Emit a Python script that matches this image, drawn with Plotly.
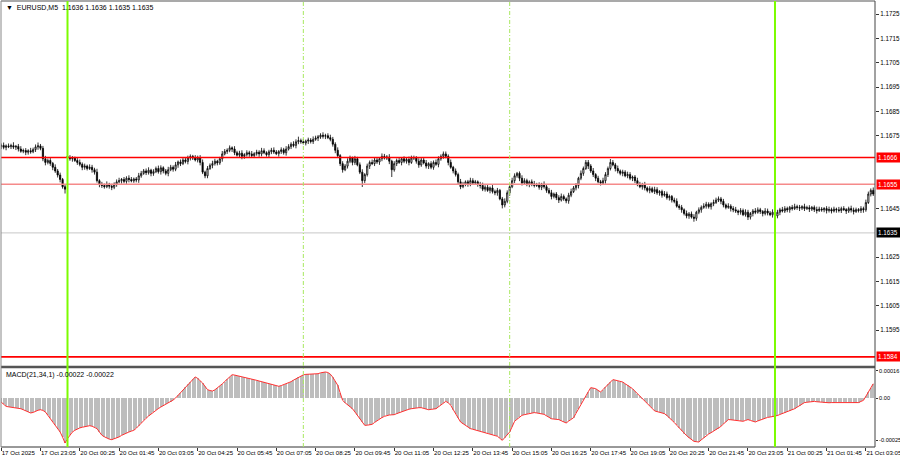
import plotly.graph_objects as go

# ---------------- data (prices in pips above 1.1600, MACD in 1e-5) ----------------
BASE = 1.16
closes = [
71.0,70.2,70.8,70.5,70.9,70.3,70.6,69.5,68.6,68.9,68.2,68.8,68.4,69.3,70.4,70.8,69.8,65.5,64.0,64.8,
63.6,62.0,60.5,58.8,57.0,54.0,53.0,66.0,65.5,65.8,64.8,64.0,63.2,62.0,62.5,61.5,62.0,61.0,60.0,56.5,
55.0,54.5,54.0,55.0,54.2,53.8,55.0,56.0,56.5,57.0,56.2,57.5,57.0,56.4,57.2,56.8,58.5,59.5,60.5,59.8,
60.8,59.5,60.2,61.5,60.2,61.8,60.5,59.5,61.0,62.0,61.2,63.0,64.2,63.5,65.0,64.4,65.8,66.5,65.8,65.0,
66.0,64.0,60.0,58.5,61.5,62.8,63.5,64.5,63.8,65.5,67.5,68.5,69.0,70.0,69.5,68.0,67.0,67.8,66.5,67.2,
68.0,67.5,66.8,67.6,68.2,67.5,68.8,68.0,67.2,68.4,69.0,68.3,67.6,68.5,69.2,68.0,69.5,70.5,71.5,71.0,
72.5,73.0,72.5,72.0,72.8,73.2,72.6,73.5,74.0,74.5,75.2,74.8,75.0,74.2,73.5,71.5,69.0,66.8,63.5,61.0,
62.5,64.5,65.8,64.0,65.5,63.0,60.0,56.5,59.0,62.5,64.0,63.5,65.0,64.2,65.5,66.5,65.8,66.2,64.5,61.0,
63.5,64.8,64.0,65.5,64.5,65.2,64.0,65.8,66.0,64.5,63.0,65.0,63.8,62.5,63.5,62.0,64.0,63.2,65.5,66.5,
67.5,66.5,64.0,62.0,60.5,59.0,56.0,54.0,55.0,56.0,55.2,56.5,55.5,56.0,55.0,54.5,53.0,53.8,52.5,53.5,
52.0,51.5,52.5,49.0,46.5,48.0,51.5,54.0,56.5,58.5,59.5,57.5,55.5,56.5,55.0,56.0,55.2,54.5,54.8,53.8,
55.0,54.0,52.5,51.5,50.0,51.0,49.5,48.5,50.0,49.0,48.2,50.5,52.0,53.5,54.5,57.5,59.5,61.5,64.0,62.5,
60.5,59.0,57.5,56.0,55.5,56.5,59.0,61.5,64.0,63.0,61.5,60.5,59.5,60.0,58.5,59.0,57.5,58.0,56.5,55.0,
54.0,54.8,53.5,52.5,53.2,52.0,52.8,51.5,52.0,50.5,51.0,49.5,50.0,48.5,48.0,46.0,45.5,44.5,43.0,42.0,
42.8,41.5,41.0,43.5,44.5,45.5,46.0,46.8,45.8,47.0,47.5,48.5,49.0,48.0,46.5,45.5,46.0,45.0,44.5,44.0,
43.5,44.2,42.5,43.5,41.5,43.0,44.0,43.5,44.5,43.8,43.0,44.0,43.2,42.5,43.5,42.0,43.5,44.5,44.0,45.0,
44.5,45.5,45.0,45.8,45.5,45.2,45.8,45.0,45.4,44.8,45.5,44.6,44.2,44.8,44.5,45.0,44.2,44.6,44.0,44.8,
44.5,44.2,45.0,44.6,44.0,45.0,44.4,43.8,44.6,44.2,45.0,44.5,47.5,51.0,52.5,51.0]

opens = [
70.5,71.0,70.2,70.8,70.5,70.9,70.3,70.6,69.5,68.6,68.9,68.2,68.8,68.4,69.3,70.4,70.8,69.8,65.5,64.0,
64.8,63.6,62.0,60.5,58.8,57.0,54.0,66.5,66.0,65.5,65.8,64.8,64.0,63.2,62.0,62.5,61.5,62.0,61.0,60.0,
56.5,55.0,54.5,54.0,55.0,54.2,53.8,55.0,56.0,56.5,57.0,56.2,57.5,57.0,56.4,57.2,56.8,58.5,59.5,60.5,
59.8,60.8,59.5,60.2,61.5,60.2,61.8,60.5,59.5,61.0,62.0,61.2,63.0,64.2,63.5,65.0,64.4,65.8,66.5,65.8,
65.0,66.0,64.0,60.0,58.5,61.5,62.8,63.5,64.5,63.8,65.5,67.5,68.5,69.0,70.0,69.5,68.0,67.0,67.8,66.5,
67.2,68.0,67.5,66.8,67.6,68.2,67.5,68.8,68.0,67.2,68.4,69.0,68.3,67.6,68.5,69.2,68.0,69.5,70.5,71.5,
71.0,72.5,73.0,72.5,72.0,72.8,73.2,72.6,73.5,74.0,74.5,75.2,74.8,75.0,74.2,73.5,71.5,69.0,66.8,63.5,
61.0,62.5,64.5,65.8,64.0,65.5,63.0,60.0,56.5,59.0,62.5,64.0,63.5,65.0,64.2,65.5,66.5,65.8,66.2,64.5,
61.0,63.5,64.8,64.0,65.5,64.5,65.2,64.0,65.8,66.0,64.5,63.0,65.0,63.8,62.5,63.5,62.0,64.0,63.2,65.5,
66.5,67.5,66.5,64.0,62.0,60.5,59.0,56.0,54.0,55.0,56.0,55.2,56.5,55.5,56.0,55.0,54.5,53.0,53.8,52.5,
53.5,52.0,51.5,52.5,49.0,46.5,48.0,51.5,54.0,56.5,58.5,59.5,57.5,55.5,56.5,55.0,56.0,55.2,54.5,54.8,
53.8,55.0,54.0,52.5,51.5,50.0,51.0,49.5,48.5,50.0,49.0,48.2,50.5,52.0,53.5,54.5,57.5,59.5,61.5,64.0,
62.5,60.5,59.0,57.5,56.0,55.5,56.5,59.0,61.5,64.0,63.0,61.5,60.5,59.5,60.0,58.5,59.0,57.5,58.0,56.5,
55.0,54.0,54.8,53.5,52.5,53.2,52.0,52.8,51.5,52.0,50.5,51.0,49.5,50.0,48.5,48.0,46.0,45.5,44.5,43.0,
42.0,42.8,41.5,41.0,43.5,44.5,45.5,46.0,46.8,45.8,47.0,47.5,48.5,49.0,48.0,46.5,45.5,46.0,45.0,44.5,
44.0,43.5,44.2,42.5,43.5,41.5,43.0,44.0,43.5,44.5,43.8,43.0,44.0,43.2,42.5,43.5,42.0,43.5,44.5,44.0,
45.0,44.5,45.5,45.0,45.8,45.5,45.2,45.8,45.0,45.4,44.8,45.5,44.6,44.2,44.8,44.5,45.0,44.2,44.6,44.0,
44.8,44.5,44.2,45.0,44.6,44.0,45.0,44.4,43.8,44.6,44.2,45.0,44.5,47.5,51.0,52.5]

# wick lengths in fifths of a pip
upper_wick = [
4,6,3,5,4,7,3,5,6,4,5,3,6,4,5,7,4,5,6,4,
5,3,6,4,5,3,4,6,5,4,3,5,6,4,5,3,6,5,4,7,
3,5,4,6,3,5,4,5,6,3,5,4,6,5,3,4,6,5,4,5,
6,3,5,4,6,5,3,4,6,5,4,6,3,5,4,6,5,4,3,6,
4,5,6,3,5,4,6,5,3,4,6,5,4,5,3,6,4,5,6,3,
5,4,6,3,5,4,6,5,3,4,5,6,4,3,5,4,6,5,4,6,
5,8,4,6,3,5,4,6,5,4,4,6,4,5,6,5,4,6,3,5,
4,6,5,3,6,4,5,6,3,5,4,6,5,4,3,6,5,4,6,3,
5,4,6,3,5,4,6,5,4,3,6,5,4,6,3,5,4,6,5,4,
5,5,4,6,3,5,4,6,5,3,4,6,5,4,3,5,6,4,5,3,
6,4,5,3,4,6,5,4,6,5,3,4,6,5,4,3,5,6,4,5,
3,6,4,5,6,3,4,5,6,4,3,5,6,4,5,3,6,4,5,5,
4,6,3,5,4,6,5,4,7,5,4,6,3,5,4,6,5,3,4,6,
5,4,6,3,5,4,6,5,3,4,6,5,4,3,5,6,4,5,3,6,
4,5,6,3,5,4,6,5,4,3,6,5,5,4,5,3,6,4,5,6,
3,5,4,6,5,3,4,6,5,4,3,6,5,4,6,3,5,4,6,5,
4,3,5,6,4,5,3,6,4,5,3,4,6,5,4,3,5,6,4,5,
3,6,4,5,3,4,6,5,4,3,5,4,6,5,4,6]

lower_wick = [
5,4,6,3,5,4,6,5,3,4,6,5,4,3,5,6,4,5,6,4,
5,6,4,5,6,4,9,5,4,6,3,5,4,6,5,4,3,6,5,4,
6,5,4,3,5,6,4,5,3,6,4,5,6,3,4,5,6,4,3,5,
4,6,5,3,4,6,5,4,6,3,5,4,6,5,3,4,6,5,4,3,
5,6,4,5,5,3,6,4,5,4,6,3,5,4,6,5,3,4,6,5,
4,6,3,5,4,6,5,3,4,6,5,4,3,6,5,4,6,3,5,4,
6,5,4,3,5,6,4,5,3,6,4,5,6,3,4,5,6,4,5,6,
3,5,4,6,5,3,4,13,5,4,6,3,5,4,6,5,3,4,6,15,
4,5,3,6,4,5,6,3,4,5,6,4,3,5,6,4,5,3,6,4,
5,4,6,3,5,4,6,5,3,4,6,5,4,3,5,6,4,5,3,6,
4,5,6,3,7,5,4,6,3,5,4,6,5,3,4,6,5,4,3,5,
6,4,5,3,6,4,5,6,3,4,5,6,4,3,5,6,4,5,3,6,
4,5,6,3,5,4,6,5,4,3,6,5,4,6,3,5,4,6,5,4,
3,6,5,4,6,3,5,4,6,5,3,4,6,5,4,3,5,6,4,5,
6,3,7,5,4,6,3,5,4,6,5,3,4,6,5,4,3,6,5,4,
6,5,3,4,6,5,6,4,3,5,6,4,5,3,6,4,5,6,3,4,
5,6,4,3,5,6,4,5,3,6,4,5,6,3,4,5,6,4,5,3,
6,4,5,3,6,4,5,6,3,4,5,6,4,3,5,4]

macd_e5 = [
-2.4,-3.8,-4.9,-5.2,-5.4,-5.5,-5.7,-5.9,-6.3,-6.9,
-7.6,-8.3,-8.8,-8.5,-7.8,-7.2,-6.9,-7.3,-8.2,-10.1,
-12.0,-14.1,-16.0,-18.0,-20.0,-23.0,-26.5,-23.9,-21.8,-20.0,
-19.0,-18.2,-17.6,-17.2,-16.8,-16.5,-16.3,-16.6,-17.2,-18.0,
-20.0,-21.9,-22.8,-23.6,-24.2,-24.5,-24.0,-23.4,-22.9,-22.0,
-21.2,-20.6,-20.0,-19.5,-19.0,-17.8,-16.2,-14.6,-13.1,-11.9,
-10.6,-9.4,-8.2,-7.2,-6.2,-5.3,-4.5,-3.8,-3.1,-2.4,
-1.2,0.0,1.6,3.2,4.9,6.5,8.0,9.5,11.0,12.4,
11.5,10.2,8.8,6.8,4.9,4.4,4.1,4.8,5.8,6.9,
8.3,9.7,11.0,12.4,13.7,13.5,13.2,12.8,12.5,12.1,
11.8,11.4,11.1,10.8,10.4,10.0,9.6,9.2,8.8,8.4,
8.0,7.6,7.2,6.9,7.3,7.8,8.2,8.8,9.6,10.5,
11.4,12.2,13.0,13.6,13.9,14.0,14.0,13.9,14.0,14.3,
14.8,15.1,15.3,15.0,14.0,12.2,9.8,7.5,3.0,-1.4,
-2.8,-4.0,-5.2,-6.3,-8.2,-10.2,-12.2,-14.2,-16.1,-16.0,
-15.8,-15.5,-14.4,-13.3,-12.2,-11.5,-10.8,-10.2,-10.0,-9.9,
-9.8,-9.2,-8.6,-8.0,-7.4,-6.9,-6.6,-6.3,-6.0,-5.8,
-5.7,-5.7,-6.1,-6.5,-6.9,-6.7,-6.5,-6.3,-5.2,-4.0,
-3.0,-2.0,-2.8,-4.3,-6.8,-9.3,-11.7,-14.1,-15.1,-16.1,
-17.0,-18.0,-18.4,-18.8,-19.2,-19.6,-19.9,-20.3,-20.6,-21.0,
-21.5,-22.0,-22.5,-23.7,-24.9,-23.3,-21.7,-20.0,-16.9,-13.7,
-12.5,-11.3,-10.2,-9.8,-9.4,-9.1,-8.8,-8.6,-8.8,-9.1,
-9.3,-9.6,-10.5,-11.4,-12.2,-12.4,-12.5,-12.7,-13.4,-14.0,
-14.7,-13.6,-12.6,-11.6,-9.0,-6.3,-3.6,-1.0,1.4,3.7,
6.1,5.8,5.5,4.5,3.5,5.0,6.5,8.0,9.4,10.8,
10.5,10.0,9.7,9.4,8.4,7.5,6.5,5.5,4.0,2.5,
1.0,-0.4,-1.8,-3.2,-4.7,-6.1,-7.6,-8.0,-8.4,-8.8,
-9.2,-10.3,-11.5,-12.7,-14.4,-16.0,-17.6,-19.3,-21.0,-22.1,
-23.3,-24.4,-25.5,-25.7,-25.9,-24.6,-23.3,-22.0,-21.2,-20.4,
-19.6,-18.8,-18.0,-16.7,-15.3,-14.0,-12.7,-12.8,-12.9,-13.0,
-13.1,-13.4,-13.7,-13.2,-12.7,-13.2,-13.6,-14.1,-13.5,-12.9,
-12.2,-11.6,-11.4,-11.2,-11.0,-10.8,-10.3,-9.7,-9.2,-8.6,
-8.0,-7.5,-6.9,-6.3,-5.4,-4.5,-3.6,-2.7,-2.5,-2.3,
-2.2,-2.0,-2.2,-2.4,-2.6,-2.7,-2.9,-2.8,-2.7,-2.7,
-2.6,-2.5,-2.5,-2.5,-2.6,-2.6,-2.6,-2.7,-2.7,-2.7,
-2.0,-1.4,1.0,3.5,6.0,8.4]

time_tick_bars = [0,16,32,48,64,80,96,112,128,144,160,176,192,208,224,240,256,272,288,304,320,336,352]
time_tick_labels = ["17 Oct 2025","17 Oct 23:05","20 Oct 00:25","20 Oct 01:45","20 Oct 03:05",
    "20 Oct 04:25","20 Oct 05:45","20 Oct 07:05","20 Oct 08:25","20 Oct 09:45","20 Oct 11:05",
    "20 Oct 12:25","20 Oct 13:45","20 Oct 15:05","20 Oct 16:25","20 Oct 17:45","20 Oct 19:05",
    "20 Oct 20:25","20 Oct 21:45","20 Oct 23:05","21 Oct 00:25","21 Oct 01:45","21 Oct 03:05"]
price_ticks = [1.1725,1.1715,1.1705,1.1695,1.1685,1.1675,1.1645,1.1625,1.1615,1.1605,1.1595]
macd_ticks = [0.00016, 0.0, -0.00025]
macd_tick_labels = ["0.00016", "0.00", "-0.00025"]

day_start_bars = [27, 315]
session_bars = [123, 207]
red_levels = [1.1666, 1.1584]
pink_levels = [1.1655]
bid_price = 1.1635
price_boxes = [(1.1666, "#FF0000"), (1.1655, "#FF0000"), (1.1635, "#000000"), (1.1584, "#FF0000")]

header_text = "\u25bc  EURUSD,M5  1.1636 1.1636 1.1635 1.1635"
macd_text = "MACD(21,34,1) -0.00022 -0.00022"

# ---------------- build ----------------
n = len(closes)
idx = list(range(n))
o = [BASE + v * 1e-4 for v in opens]
c = [BASE + v * 1e-4 for v in closes]
h = [BASE + (max(a, b) + u / 5) * 1e-4 for a, b, u in zip(opens, closes, upper_wick)]
l = [BASE + (min(a, b) - d / 5) * 1e-4 for a, b, d in zip(opens, closes, lower_wick)]
macd = [v * 1e-5 for v in macd_e5]

W, H = 900, 460
T, B, L, R = 1, 13, 1, 25
plot_h = H - T - B  # 446
def py(pix):  # pixel row -> paper y
    return (H - B - pix) / plot_h

main_dom = [py(366), 1.0]
macd_dom = [0.0, py(368)]

FONT = "Liberation Sans"

fig = go.Figure()
fig.add_trace(go.Candlestick(
    x=idx, open=o, high=h, low=l, close=c, xaxis="x", yaxis="y",
    increasing=dict(line=dict(color="black", width=0.8), fillcolor="white"),
    decreasing=dict(line=dict(color="black", width=0.8), fillcolor="black"),
    whiskerwidth=0, showlegend=False, hoverinfo="skip"))
fig.add_trace(go.Bar(x=idx, y=macd, xaxis="x", yaxis="y2", width=0.42,
                     marker=dict(color="#BDBDBD", line=dict(width=0)),
                     showlegend=False, hoverinfo="skip"))
fig.add_trace(go.Scatter(x=idx, y=macd, xaxis="x", yaxis="y2", mode="lines",
                         line=dict(color="#FF3030", width=1), showlegend=False,
                         hoverinfo="skip"))

# y ranges from pixel calibration: pips = 75 - (y-135.7)/2.43
main_top = BASE + (75 + (135.7 - 1) / 2.43) * 1e-4
main_bot = BASE + (75 - (366 - 135.7) / 2.43) * 1e-4
macd_top = (398 - 368) / 1.7 * 1e-5
macd_bot = -(447 - 398) / 1.7 * 1e-5

shapes = []
for p in red_levels:
    shapes.append(dict(type="line", xref="paper", yref="y", x0=0, x1=1, y0=p, y1=p,
                       line=dict(color="#FF0000", width=1.6)))
for p in pink_levels:
    shapes.append(dict(type="line", xref="paper", yref="y", x0=0, x1=1, y0=p, y1=p,
                       line=dict(color="#F58A8A", width=1.6)))
shapes.append(dict(type="line", xref="paper", yref="y", x0=0, x1=1, y0=bid_price, y1=bid_price,
                   line=dict(color="#C8C8C8", width=1)))
sep = py(367)
shapes += [
    dict(type="line", xref="paper", yref="paper", x0=0, x1=1, y0=sep, y1=sep,
         line=dict(color="#555555", width=2.5)),
    dict(type="line", xref="paper", yref="paper", x0=0, x1=1, y0=1, y1=1,
         line=dict(color="#555555", width=1.2)),
    dict(type="line", xref="paper", yref="paper", x0=0, x1=1, y0=0, y1=0,
         line=dict(color="#333333", width=1)),
    dict(type="line", xref="paper", yref="paper", x0=0, x1=0, y0=0, y1=1,
         line=dict(color="#888888", width=1)),
    dict(type="line", xref="paper", yref="paper", x0=1, x1=1, y0=0, y1=1,
         line=dict(color="#444444", width=1)),
]
for b in session_bars:
    shapes.append(dict(type="line", xref="x", yref="paper", x0=b, x1=b, y0=0, y1=1,
                       line=dict(color="#A8E860", width=1, dash="4px,2px,1px,2px")))
for b in day_start_bars:
    shapes.append(dict(type="line", xref="x", yref="paper", x0=b, x1=b, y0=0, y1=1,
                       line=dict(color="#7CFC00", width=2)))

annotations = [
    dict(text=header_text, xref="paper", yref="paper", x=0, y=1, xanchor="left", yanchor="top",
         xshift=3, yshift=-1, showarrow=False, font=dict(family=FONT, size=7, color="black")),
    dict(text=macd_text, xref="paper", yref="paper", x=0, y=macd_dom[1], xanchor="left",
         yanchor="top", xshift=3, yshift=-1, showarrow=False,
         font=dict(family=FONT, size=7, color="black")),
]
for p, col in price_boxes:
    annotations.append(dict(text=f"{p:.4f}", xref="paper", yref="y", x=1, y=p, xanchor="left",
                            yanchor="middle", xshift=1, showarrow=False, bgcolor=col,
                            borderpad=1, width=22, align="left",
                            font=dict(family=FONT, size=6.3, color="white")))

fig.update_layout(
    width=W, height=H, margin=dict(l=L, r=R, t=T, b=B, autoexpand=False),
    paper_bgcolor="white", plot_bgcolor="white", showlegend=False, bargap=0,
    shapes=shapes, annotations=annotations,
    xaxis=dict(domain=[0, 1], anchor="y2", range=[-0.07, 355.71], rangeslider=dict(visible=False),
               showgrid=False, zeroline=False, showline=False, automargin=False,
               tickmode="array", tickvals=time_tick_bars, ticktext=time_tick_labels, tickangle=0,
               ticks="outside", ticklen=3, tickcolor="#333", ticklabelposition="outside right",
               ticklabeloverflow="allow", tickfont=dict(family=FONT, size=6.1, color="black")),
    yaxis=dict(domain=main_dom, anchor="x", side="right", range=[main_bot, main_top],
               showgrid=False, zeroline=False, showline=False, automargin=False, tickmode="array",
               tickvals=price_ticks, ticktext=[f"{v:.4f}" for v in price_ticks],
               ticks="outside", ticklen=3, tickcolor="#333", ticklabeloverflow="allow",
               tickfont=dict(family=FONT, size=6.3, color="black")),
    yaxis2=dict(domain=macd_dom, anchor="x", side="right", range=[macd_bot, macd_top],
                showgrid=False, zeroline=False, showline=False, automargin=False, tickmode="array",
                tickvals=macd_ticks, ticktext=macd_tick_labels, ticklabeloverflow="allow",
                ticks="outside", ticklen=2, tickcolor="#333",
                tickfont=dict(family=FONT, size=5.6, color="black")),
)

fig.write_html("out.html", config={"displayModeBar": False},
               post_script="document.body.style.margin='0';document.body.style.overflow='hidden';")
